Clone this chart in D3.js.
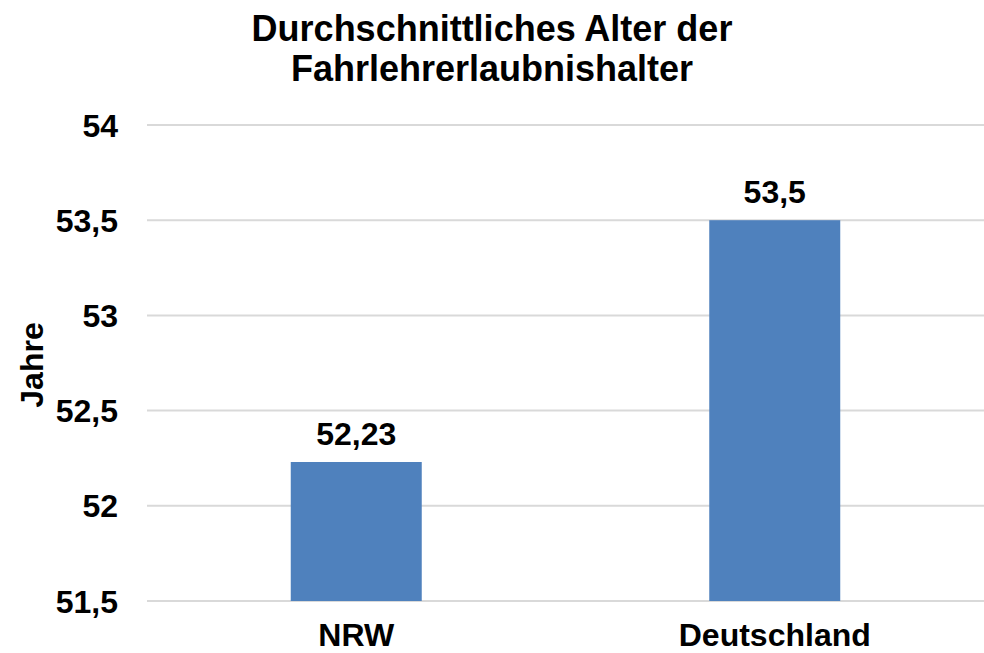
<!DOCTYPE html>
<html>
<head>
<meta charset="utf-8">
<script src="https://cdn.jsdelivr.net/npm/d3@7"></script>
<style>
  body { margin: 0; background: #fff; }
  text { font-family: "Liberation Sans", Arial, sans-serif; font-weight: bold; fill: #000; }
</style>
</head>
<body>
<svg width="984" height="653"></svg>
<script>
// Data
const categories = ["NRW", "Deutschland"];
const values = [52.23, 53.5];
const valueLabels = ["52,23", "53,5"];
const yTicks = [51.5, 52, 52.5, 53, 53.5, 54];
const titleLines = ["Durchschnittliches Alter der", "Fahrlehrerlaubnishalter"];
const yTitle = "Jahre";

const svg = d3.select("svg");
const margin = { top: 125, right: 0, bottom: 52, left: 147 };
const width = +svg.attr("width") - margin.left - margin.right;
const height = +svg.attr("height") - margin.top - margin.bottom;

const g = svg.append("g").attr("transform", `translate(${margin.left},${margin.top})`);

const x = d3.scaleBand().domain(categories).range([0, width]);
const y = d3.scaleLinear().domain([51.5, 54]).range([height, 0]);
const barW = x.bandwidth() * 0.313;

// gridlines
g.selectAll(".grid").data(yTicks).enter().append("line")
  .attr("x1", 0).attr("x2", width)
  .attr("y1", d => y(d)).attr("y2", d => y(d))
  .attr("stroke", "#d9d9d9").attr("stroke-width", 2);

// y tick labels
const fmt = d => String(d).replace(".", ",");
g.selectAll(".ytick").data(yTicks).enter().append("text")
  .attr("x", -29).attr("y", d => y(d))
  .attr("dy", "0.36em")
  .attr("text-anchor", "end")
  .style("font-size", "32px")
  .text(fmt);

// bars
g.selectAll(".bar").data(values).enter().append("rect")
  .attr("x", (d, i) => x(categories[i]) + (x.bandwidth() - barW) / 2)
  .attr("y", d => y(d))
  .attr("width", barW)
  .attr("height", d => height - y(d))
  .attr("fill", "#4f81bd");

// value labels
g.selectAll(".val").data(values).enter().append("text")
  .attr("x", (d, i) => x(categories[i]) + x.bandwidth() / 2)
  .attr("y", d => y(d) - 17)
  .attr("text-anchor", "middle")
  .style("font-size", "32px")
  .text((d, i) => valueLabels[i]);

// category labels
g.selectAll(".cat").data(categories).enter().append("text")
  .attr("x", d => x(d) + x.bandwidth() / 2)
  .attr("y", height + 45)
  .attr("text-anchor", "middle")
  .style("font-size", "32px")
  .text(d => d);

// y axis title
svg.append("text")
  .attr("transform", `translate(43, 365) rotate(-90)`)
  .attr("text-anchor", "middle")
  .style("font-size", "32px")
  .text(yTitle);

// chart title
svg.selectAll(".title").data(titleLines).enter().append("text")
  .attr("x", 492)
  .attr("y", (d, i) => 41 + i * 40)
  .attr("text-anchor", "middle")
  .style("font-size", "36px")
  .text(d => d);
</script>
</body>
</html>
